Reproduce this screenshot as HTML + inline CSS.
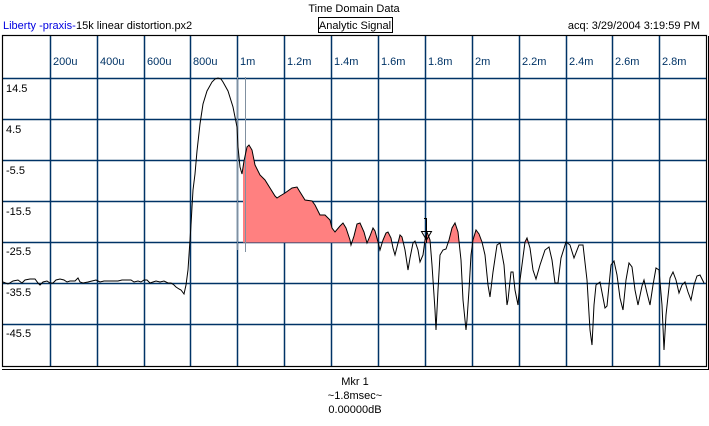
<!DOCTYPE html>
<html><head><style>
body{margin:0;background:#fff;}
svg{display:block;font-family:"Liberation Sans",sans-serif;font-size:11px;}
</style></head><body>
<svg width="709" height="426" xmlns="http://www.w3.org/2000/svg">
<rect width="709" height="426" fill="#fff"/>
<text x="354" y="12" text-anchor="middle" fill="#000">Time Domain Data</text>
<rect x="318.5" y="17.5" width="74" height="15" fill="none" stroke="#000"/>
<text x="355" y="29" text-anchor="middle" fill="#000">Analytic Signal</text>
<text x="3" y="29" fill="#0000e0">Liberty -praxis-</text>
<text x="76" y="29" fill="#000">15k linear distortion.px2</text>
<text x="700" y="29" text-anchor="end" fill="#000">acq: 3/29/2004 3:19:59 PM</text>
<defs><clipPath id="c"><rect x="243" y="36" width="463" height="206.5"/></clipPath></defs>
<g stroke="#003366" stroke-width="1.5">
<line x1="3" y1="78.5" x2="706" y2="78.5"/>
<line x1="3" y1="119.5" x2="706" y2="119.5"/>
<line x1="3" y1="160.5" x2="706" y2="160.5"/>
<line x1="3" y1="201.5" x2="706" y2="201.5"/>
<line x1="3" y1="242.5" x2="706" y2="242.5"/>
<line x1="3" y1="283.5" x2="706" y2="283.5"/>
<line x1="3" y1="324.5" x2="706" y2="324.5"/>
<line x1="50.5" y1="36" x2="50.5" y2="366"/>
<line x1="97.5" y1="36" x2="97.5" y2="366"/>
<line x1="144.5" y1="36" x2="144.5" y2="366"/>
<line x1="190.5" y1="36" x2="190.5" y2="366"/>
<line x1="237.5" y1="36" x2="237.5" y2="366"/>
<line x1="284.5" y1="36" x2="284.5" y2="366"/>
<line x1="331.5" y1="36" x2="331.5" y2="366"/>
<line x1="378.5" y1="36" x2="378.5" y2="366"/>
<line x1="425.5" y1="36" x2="425.5" y2="366"/>
<line x1="472.5" y1="36" x2="472.5" y2="366"/>
<line x1="519.5" y1="36" x2="519.5" y2="366"/>
<line x1="566.5" y1="36" x2="566.5" y2="366"/>
<line x1="612.5" y1="36" x2="612.5" y2="366"/>
<line x1="659.5" y1="36" x2="659.5" y2="366"/>
</g>
<g fill="#003366">
<text x="53" y="65">200u</text><text x="100" y="65">400u</text><text x="147" y="65">600u</text>
<text x="193" y="65">800u</text><text x="240" y="65">1m</text><text x="287" y="65">1.2m</text>
<text x="334" y="65">1.4m</text><text x="381" y="65">1.6m</text><text x="428" y="65">1.8m</text>
<text x="475" y="65">2m</text><text x="522" y="65">2.2m</text><text x="569" y="65">2.4m</text>
<text x="615" y="65">2.6m</text><text x="662" y="65">2.8m</text>
</g>
<g fill="#000">
<text x="6" y="92">14.5</text><text x="6" y="133">4.5</text><text x="6" y="174">-5.5</text>
<text x="6" y="215">-15.5</text><text x="6" y="255">-25.5</text><text x="6" y="296">-35.5</text>
<text x="6" y="337">-45.5</text>
</g>
<path clip-path="url(#c)" fill="#ff8080" d="M237,127 L238,147 L240,167 L242,174 L244,161 L247,147 L249,145 L252,150 L255,165 L260,175 L265,180 L270,188 L275,196 L277,198 L280,196 L285,193 L292,188 L297,187 L300,192 L305,200 L312,201 L315,205 L320,215 L325,215 L330,220 L332,228 L335,232 L340,226 L343,223 L346,228 L350,240 L351,245 L354,236 L357,224 L360,223 L364,232 L367,243 L370,236 L373,228 L375,231 L378,242 L380,250 L383,240 L386,233 L388,232 L391,238 L393,248 L395,255 L398,243 L400,235 L402,237 L405,250 L408,270 L410,258 L413,243 L415,241 L418,250 L420,262 L423,255 L425,240 L427,232 L430,240 L432,265 L435,310 L436,330 L438,290 L440,255 L443,250 L446,249 L449,240 L452,228 L455,223 L458,232 L461,260 L463,300 L466,330 L467,320 L469,290 L471,255 L473,240 L476,230 L479,234 L482,242 L485,255 L488,285 L490,297 L493,272 L497,245 L500,243 L504,265 L507,305 L508,300 L511,272 L513,272 L515,290 L518,305 L520,280 L525,242 L527,238 L530,248 L533,270 L540,265 L704,265 L704,242.5 L237,242.5 Z"/>
<line x1="237.5" y1="77" x2="237.5" y2="250" stroke="#8090a0" stroke-width="1"/>
<line x1="245.5" y1="77" x2="245.5" y2="252" stroke="#8090a0" stroke-width="1"/>
<polyline fill="none" stroke="#000" stroke-width="1" points="3,282 8,284 13,281 18,280 22,283 25,280 30,279 35,279 38,283 40,285 43,282 47,281 50,283 53,283 56,280 60,279 64,280 67,282 70,281 75,281 78,278 80,282 83,283 88,282 92,281 96,280 100,282 104,281 108,281 113,281 118,281 122,280 126,280 131,280 134,282 138,281 141,282 144,280 147,280 150,283 153,282 156,281 160,282 164,281 168,283 171,283 174,285 176,287 179,289 181,290 184,294 186,285 188,270 189,255 190,240 191,225 192,207 193,190 195,174 197,151 200,124 203,104 207,91 212,82 215,79 218,78 221,79 223,82 228,91 233,107 237,127 238,147 240,167 242,174 244,161 247,147 249,145 252,150 255,165 260,175 265,180 270,188 275,196 277,198 280,196 285,193 292,188 297,187 300,192 305,200 312,201 315,205 320,215 325,215 330,220 332,228 335,232 340,226 343,223 346,228 350,240 351,245 354,236 357,224 360,223 364,232 367,243 370,236 373,228 375,231 378,242 380,250 383,240 386,233 388,232 391,238 393,248 395,255 398,243 400,235 402,237 405,250 408,270 410,258 413,243 415,241 418,250 420,262 423,255 425,240 427,232 430,240 432,265 435,310 436,330 438,290 440,255 443,250 446,249 449,240 452,228 455,223 458,232 461,260 463,300 466,330 467,320 469,290 471,255 473,240 476,230 479,234 482,242 485,255 488,285 490,297 493,272 497,245 500,243 504,265 507,305 508,300 511,272 513,272 515,290 518,305 520,280 525,242 527,238 530,248 533,270 536,279 540,265 545,250 549,247 552,260 555,283 558,283 561,258 566,242 570,245 574,258 579,245 583,245 587,280 590,330 592,345 594,305 596,285 600,282 605,308 607,306 611,265 614,261 617,275 620,298 623,310 626,280 629,263 632,267 635,290 638,305 642,286 644,280 647,293 650,305 653,285 656,268 659,270 662,305 664,350 666,315 670,278 673,272 676,280 679,293 682,285 685,282 688,292 691,300 694,285 697,276 700,275 704,283"/>
<line x1="426.5" y1="218" x2="426.5" y2="243" stroke="#000"/>
<line x1="424" y1="218.5" x2="427" y2="218.5" stroke="#000"/>
<polygon points="421.5,231.5 431.5,231.5 426.5,240" fill="none" stroke="#000"/>
<rect x="2.5" y="35.5" width="704" height="331" fill="none" stroke="#000" stroke-width="1.2"/>
<line x1="2" y1="369.5" x2="709" y2="369.5" stroke="#000"/>
<line x1="708.5" y1="36" x2="708.5" y2="369" stroke="#000"/>
<g fill="#000" text-anchor="middle">
<text x="355" y="385">Mkr 1</text>
<text x="355" y="399">~1.8msec~</text>
<text x="355" y="413">0.00000dB</text>
</g>
</svg>
</body></html>
